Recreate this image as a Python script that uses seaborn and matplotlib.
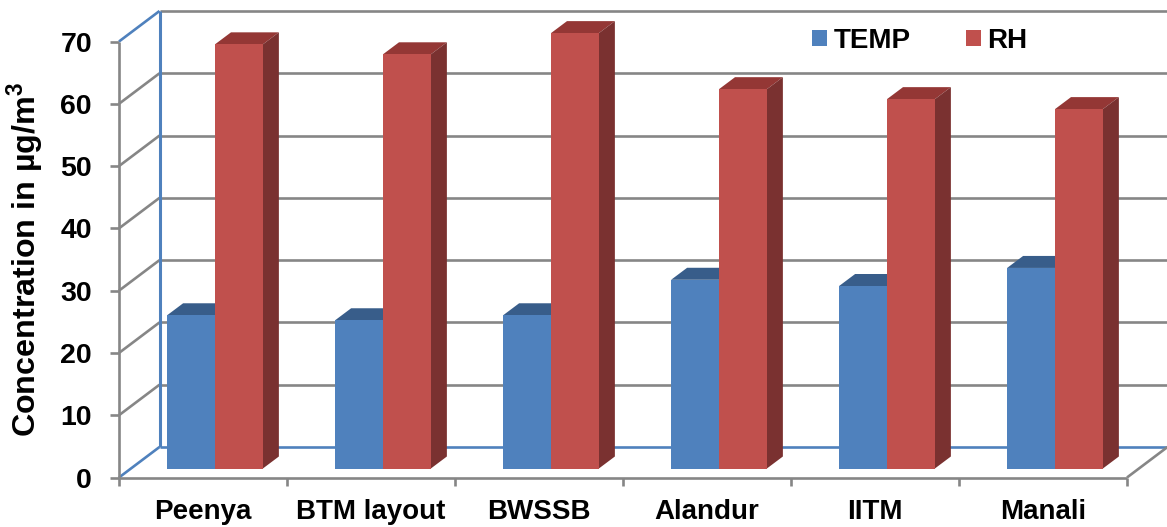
import matplotlib
matplotlib.use('Agg')
import matplotlib.pyplot as plt
import seaborn as sns
import pandas as pd
import numpy as np
from matplotlib.patches import Polygon
from matplotlib.transforms import Affine2D

sites = ['Peenya', 'BTM layout', 'BWSSB', 'Alandur', 'IITM', 'Manali']
temp = [24.6, 23.8, 24.6, 30.3, 29.3, 32.2]
rh = [68.1, 66.5, 69.9, 60.9, 59.3, 57.7]
y_ticks = [0, 10, 20, 30, 40, 50, 60, 70]

BLUE, RED = '#4F81BD', '#C0504D'
SHADES = {BLUE: ('#385D8A', '#385D8A'), RED: ('#943735', '#7A3130')}
GRID = '#868686'

sns.set_style('white')
plt.rcParams['font.family'] = ['Liberation Sans', 'DejaVu Sans']
plt.rcParams['font.weight'] = 'bold'
plt.rcParams['text.color'] = 'black'
plt.rcParams['axes.labelcolor'] = 'black'
plt.rcParams['xtick.labelcolor'] = 'black'
plt.rcParams['ytick.labelcolor'] = 'black'
plt.rcParams['mathtext.fontset'] = 'custom'
plt.rcParams['mathtext.bf'] = 'Liberation Sans:bold'

df = pd.DataFrame({
    'site': sites * 2,
    'value': temp + rh,
    'series': ['TEMP'] * 6 + ['RH'] * 6,
})

W, H = 1167, 527
fig = plt.figure(figsize=(W / 100, H / 100), dpi=100)
ax = fig.add_axes([131 / W, (H - 468.5) / H, 1008 / W, 436 / H])
ax.patch.set_visible(False)

sns.barplot(data=df, x='site', y='value', hue='series', hue_order=['TEMP', 'RH'],
            palette=[BLUE, RED], saturation=1, width=0.57, gap=0, ax=ax, errorbar=None,
            edgecolor='none', linewidth=0)
ax.set_xlim(-0.5, 5.5)
ax.set_ylim(0, 70)
sns.despine(ax=ax, left=True, bottom=True)

# pixel sizes turned into data units for the fake 3d look
px_x = 6 / 1008
px_y = 70 / 436
front = (-12 * px_x, -9 * px_y)
back = (28.5 * px_x, 21.5 * px_y)
depth = (16 * px_x, 12 * px_y)
LW = 1.9


def wall_line(xs, ys, color=GRID, lw=LW):
    ax.plot(xs, ys, color=color, lw=lw, zorder=1, clip_on=False, solid_capstyle='butt')


# back wall grid
for v in y_ticks:
    c = BLUE if v == 0 else GRID
    wall_line([-0.5 + back[0], 5.5 + back[0]], [v + back[1]] * 2, c)
    # left wall diagonals
    c = BLUE if v in (0, 70) else GRID
    wall_line([-0.5 + front[0], -0.5 + back[0]], [v + front[1], v + back[1]], c)
wall_line([-0.5 + back[0]] * 2, [back[1], 70 + back[1]], BLUE, 2.2)
wall_line([-0.5 + front[0]] * 2, [front[1], 70 + front[1]], GRID)
wall_line([-0.5 + front[0], 5.5 + front[0]], [front[1]] * 2, GRID)
wall_line([5.5 + front[0], 5.5 + back[0]], [front[1], back[1]], GRID)

# bar sides and tops
for cont, col in zip(ax.containers, [BLUE, RED]):
    top_c, side_c = SHADES[col]
    z = 2.5 if col == BLUE else 2.8
    for bar in cont:
        bar.set_zorder(3)
        bar.set_clip_on(False)
        x0, x1 = bar.get_x(), bar.get_x() + bar.get_width()
        h = bar.get_height()
        ax.add_patch(Polygon([(x0, h), (x1, h), (x1 + depth[0], h + depth[1]), (x0 + depth[0], h + depth[1])],
                             fc=top_c, ec='none', zorder=z, clip_on=False))
        ax.add_patch(Polygon([(x1, 0), (x1 + depth[0], depth[1]), (x1 + depth[0], h + depth[1]), (x1, h)],
                             fc=side_c, ec='none', zorder=z, clip_on=False))

# ticks sit on the front plane
ax.set_yticks(y_ticks)
ax.set_xticks(range(6))
ax.set_xticklabels(sites)
ax.set_xticks(np.arange(-0.5, 6), minor=True)
ax.tick_params(axis='y', length=6.5, width=LW, color=GRID, pad=13, labelsize=20.5, left=True)
ax.tick_params(axis='x', which='major', length=0, pad=15.5, labelsize=20)
ax.tick_params(axis='x', which='minor', length=6, width=LW, color=GRID, bottom=True)
ax.set_xlabel('')
shift = Affine2D().translate(-12, -9)
for tick in ax.yaxis.get_major_ticks() + ax.xaxis.get_major_ticks() + ax.xaxis.get_minor_ticks():
    tick.tick1line.set_transform(tick.tick1line.get_transform() + shift)
    tick.label1.set_transform(tick.label1.get_transform() + shift)
for lab in ax.get_yticklabels() + ax.get_xticklabels():
    lab.set_fontweight('bold')

ax.set_ylabel(r'Concentration in µg/m$^{\mathbf{3}}$', fontsize=23.2, fontweight='bold', va='center')
ax.yaxis.set_label_coords((25.5 - 131) / 1008, (468.5 - 259) / 436)

handles, labels = ax.get_legend_handles_labels()
ax.legend(handles, labels, ncols=2, frameon=False, loc='center left',
          bbox_to_anchor=(812 / W, 1 - 41 / H), bbox_transform=fig.transFigure,
          borderpad=0, borderaxespad=0, fontsize=20, handlelength=0.53, handleheight=0.53,
          handletextpad=0.24, columnspacing=2.0, title=None)

fig.savefig('out.png', dpi=100)
